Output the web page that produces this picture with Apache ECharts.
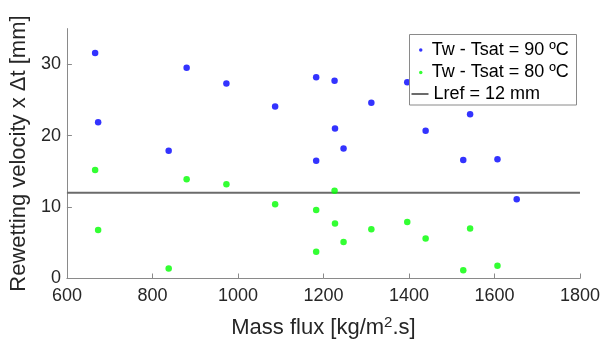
<!DOCTYPE html>
<html>
<head>
<meta charset="utf-8">
<script src="https://cdn.jsdelivr.net/npm/echarts@6/dist/echarts.min.js"></script>
<style>html,body{margin:0;padding:0;background:#fff;}#c{width:603px;height:347px;}</style>
</head>
<body>
<div id="c"></div>
<script>
// Data
const massFlux90 = [666, 880, 973, 1087, 1183, 1226, 673, 1227, 838, 1247, 1183, 1396, 1312, 1543, 1439, 1527, 1607, 1652];
const value90    = [31.6, 29.5, 27.3, 24.1, 28.2, 27.7, 21.9, 21.0, 17.9, 18.2, 16.5, 27.5, 24.6, 23.0, 20.7, 16.6, 16.7, 11.1];
const massFlux80 = [666, 880, 973, 1226, 1087, 1183, 1227, 673, 1247, 1183, 838, 1396, 1312, 1543, 1439, 1527, 1607];
const value80    = [15.2, 13.9, 13.2, 12.3, 10.4, 9.6, 7.7, 6.8, 5.1, 3.75, 1.4, 7.9, 6.9, 7.0, 5.6, 1.15, 1.8];
const lrefX = [600, 1800];
const lrefY = [12, 12];
const xTicks = [600, 800, 1000, 1200, 1400, 1600, 1800];
const yTicks = [0, 10, 20, 30];
const seriesNames = ['Tw - Tsat = 90 ºC', 'Tw - Tsat = 80 ºC', 'Lref = 12 mm'];

const zip = (a, b) => a.map((v, i) => [v, b[i]]);
const FONT = '"Liberation Sans", Arial, Helvetica, sans-serif';
const TXT = '#262626';
const AX = '#8a8a8a';

const chart = echarts.init(document.getElementById('c'), null, {renderer: 'canvas'});
chart.setOption({
  animation: false,
  backgroundColor: '#fff',
  textStyle: {fontFamily: FONT},
  grid: {left: 63.3, right: 22, top: 28.6, bottom: 68.5, containLabel: false},
  xAxis: {
    type: 'value', min: 600, max: 1800, interval: 200,
    name: 'Mass flux [kg/m{sup|2}.s]',
    nameLocation: 'middle', nameGap: 37,
    nameTextStyle: {
      color: TXT, fontSize: 22, fontFamily: FONT,
      rich: {sup: {fontSize: 15, verticalAlign: 'top', color: TXT, fontFamily: FONT, padding: [0, 0, 10, 0]}}
    },
    axisLine: {show: true, lineStyle: {color: AX, width: 1}},
    axisTick: {show: true, inside: true, length: 5, lineStyle: {color: AX}, customValues: xTicks},
    axisLabel: {color: TXT, fontSize: 18, fontFamily: FONT, margin: 9, customValues: xTicks,
      formatter: v => String(v)},
    splitLine: {show: false}
  },
  yAxis: {
    type: 'value', min: 0, max: 35, interval: 10,
    name: 'Rewetting velocity x Δt [mm]',
    nameLocation: 'middle', nameGap: 30, nameRotate: 90,
    nameTextStyle: {color: TXT, fontSize: 22, fontFamily: FONT},
    axisLine: {show: true, lineStyle: {color: AX, width: 1}},
    axisTick: {show: true, inside: true, length: 5, lineStyle: {color: AX}, customValues: yTicks},
    axisLabel: {color: TXT, fontSize: 18, fontFamily: FONT, margin: 6, customValues: yTicks,
      formatter: v => String(v)},
    splitLine: {show: false}
  },
  legend: [
    {
      data: [seriesNames[0], seriesNames[1]],
      orient: 'vertical', left: 419, top: 41, padding: 0,
      itemWidth: 12, itemHeight: 3.5, itemGap: 4.5,
      icon: 'circle', symbolKeepAspect: true,
      textStyle: {color: '#000', fontSize: 18, fontFamily: FONT},
      z: 10
    },
    {
      data: [seriesNames[2]],
      orient: 'vertical', left: 410.5, top: 85, padding: 0,
      itemWidth: 17, itemHeight: 2, itemGap: 0,
      textStyle: {color: '#000', fontSize: 18, fontFamily: FONT},
      z: 10
    }
  ],
  graphic: [{
    type: 'rect', z: 8, silent: true,
    shape: {x: 409.5, y: 34.5, width: 167, height: 70.5},
    style: {fill: '#fff', stroke: '#8a8a8a', lineWidth: 1}
  }],
  series: [
    {
      name: seriesNames[0], type: 'scatter', symbol: 'circle', symbolSize: 6.5,
      itemStyle: {color: '#0000ff'}, data: zip(massFlux90, value90), z: 3
    },
    {
      name: seriesNames[1], type: 'scatter', symbol: 'circle', symbolSize: 6.5,
      itemStyle: {color: '#00ff00'}, data: zip(massFlux80, value80), z: 3
    },
    {
      name: seriesNames[2], type: 'line', symbol: 'none', showSymbol: false,
      lineStyle: {color: '#6b6b6b', width: 2}, itemStyle: {color: '#6b6b6b'},
      data: zip(lrefX, lrefY), z: 2
    }
  ]
});
</script>
</body>
</html>
